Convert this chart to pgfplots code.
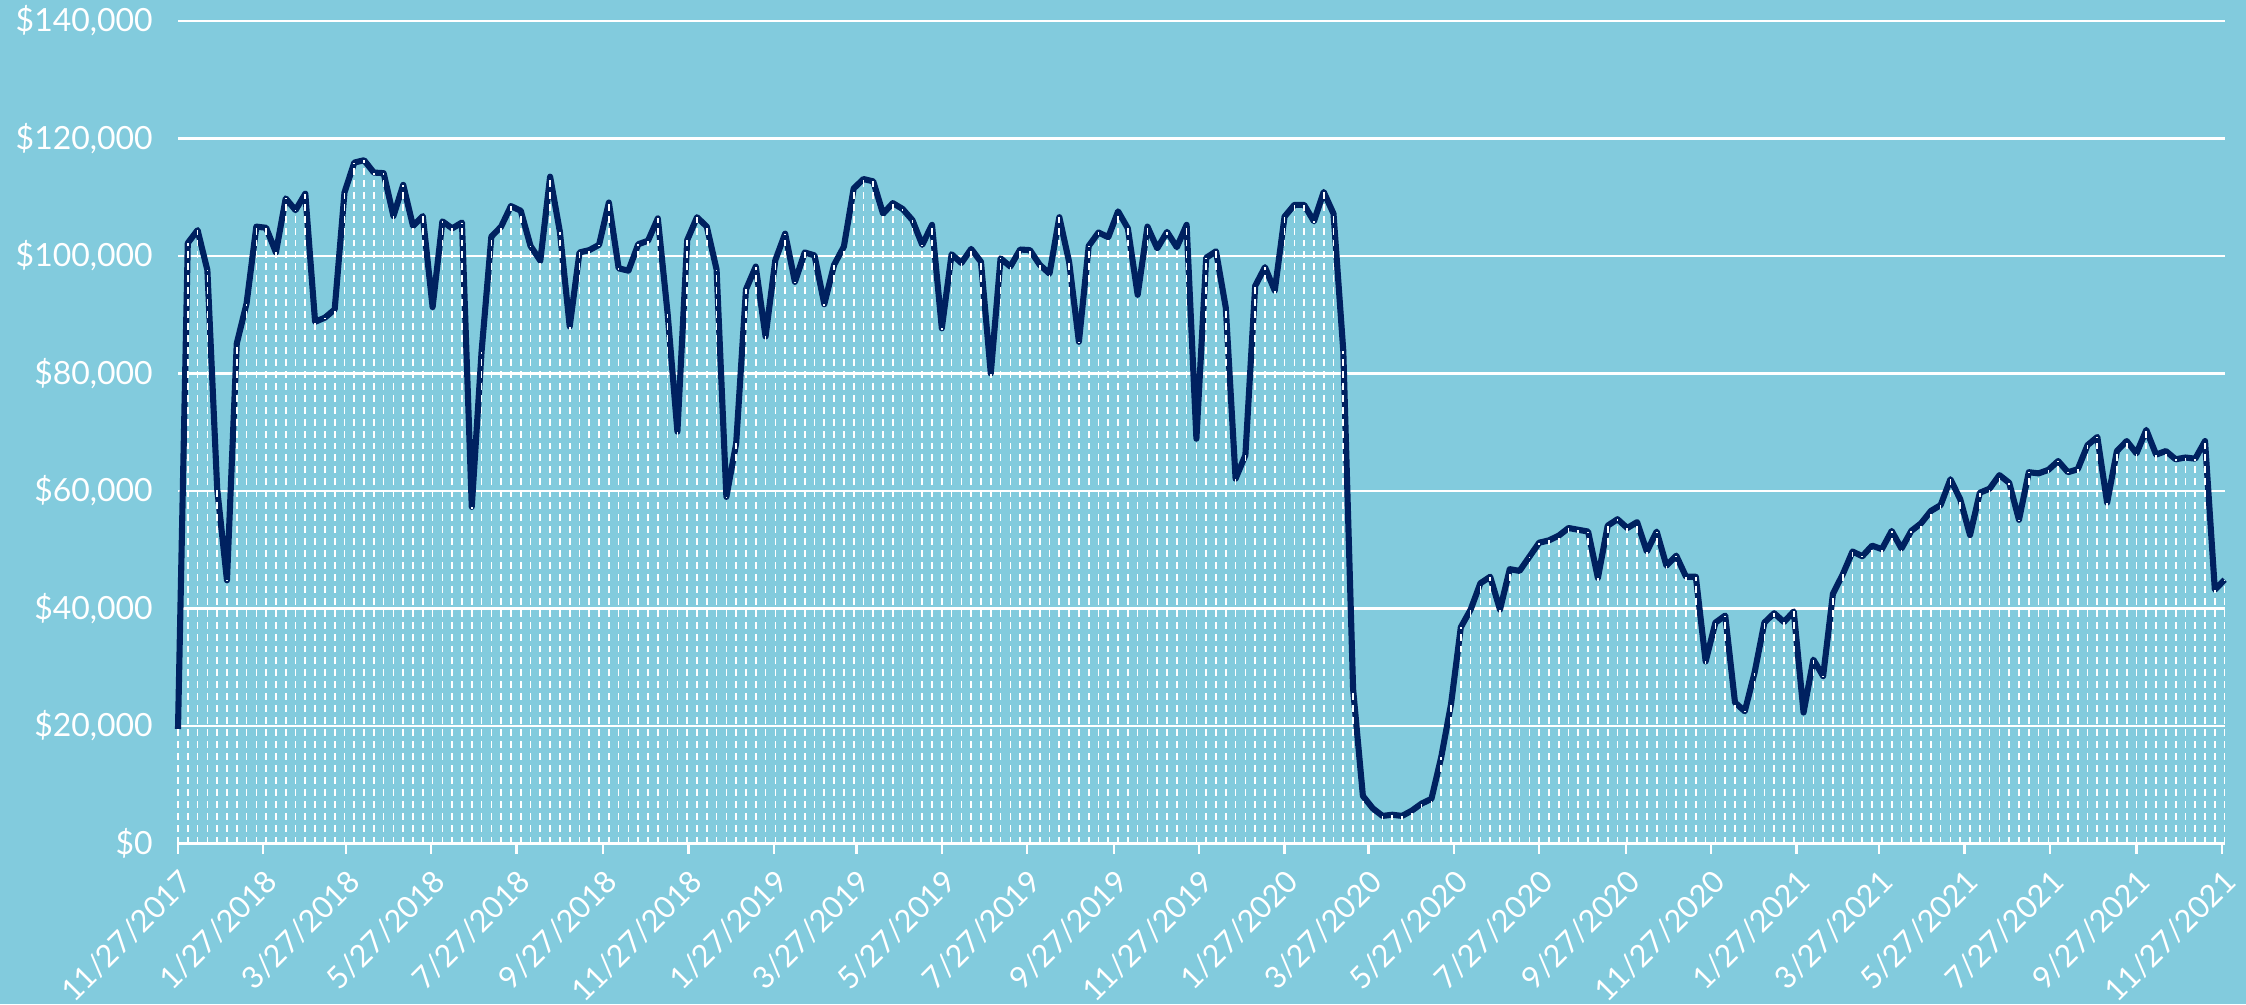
\documentclass[border=0pt]{standalone}
\usepackage{fontspec}
\setmainfont{Lato}
\usepackage{pgfplots}
\pgfplotsset{compat=1.18}
\usepackage{pgfplotstable}
\usetikzlibrary{backgrounds}
\definecolor{bg}{RGB}{130,203,221}
\definecolor{navy}{RGB}{0,33,96}

\pgfplotstableread{
w v
0 19500
1 102200
2 104400
3 97600
4 60400
5 44800
6 85100
7 91900
8 105000
9 104800
10 100600
11 109800
12 107800
13 110600
14 88800
15 89500
16 90900
17 110800
18 115900
19 116300
20 114200
21 114100
22 106800
23 112100
24 105100
25 106800
26 91300
27 105900
28 104700
29 105700
30 57300
31 83700
32 103300
33 105000
34 108500
35 107700
36 101700
37 99200
38 113500
39 104100
40 88000
41 100600
42 101000
43 101900
44 109100
45 97900
46 97500
47 102000
48 102600
49 106400
50 90200
51 70100
52 102700
53 106600
54 105000
55 97700
56 59000
57 68100
58 94300
59 98200
60 86300
61 99300
62 103800
63 95600
64 100600
65 100100
66 91800
67 98500
68 101600
69 111500
70 113100
71 112700
72 107200
73 109000
74 108000
75 106100
76 101900
77 105300
78 87700
79 100300
80 98800
81 101200
82 99000
83 80000
84 99600
85 98200
86 101100
87 101000
88 98500
89 97000
90 106600
91 99000
92 85400
93 101700
94 104000
95 103200
96 107600
97 104700
98 93400
99 105000
100 101300
101 104100
102 101500
103 105300
104 68900
105 99700
106 100800
107 91200
108 62100
109 66100
110 94900
111 98100
112 94100
113 106700
114 108700
115 108700
116 105900
117 110900
118 107200
119 83800
120 26300
121 8100
122 6000
123 4700
124 4900
125 4700
126 5600
127 6800
128 7600
129 14700
130 23700
131 36800
132 39800
133 44300
134 45400
135 39800
136 46700
137 46400
138 48800
139 51200
140 51600
141 52400
142 53700
143 53400
144 53100
145 45200
146 54100
147 55200
148 53700
149 54700
150 49700
151 53100
152 47300
153 49000
154 45400
155 45400
156 31000
157 37600
158 38800
159 24000
160 22500
161 29100
162 37600
163 39200
164 37700
165 39500
166 22300
167 31300
168 28500
169 42500
170 45800
171 49700
172 48900
173 50700
174 50100
175 53200
176 50200
177 53200
178 54500
179 56600
180 57600
181 62000
182 58600
183 52500
184 59700
185 60400
186 62700
187 61400
188 55100
189 63200
190 63000
191 63600
192 65100
193 63200
194 63700
195 67800
196 69200
197 58000
198 66800
199 68500
200 66400
201 70400
202 66200
203 66800
204 65400
205 65700
206 65500
207 68500
208 43200
209 44900
}\datatable

\begin{document}
\begin{tikzpicture}
\begin{axis}[
  scale only axis, width=737pt, height=296.2pt,
  xmin=0, xmax=1463, ymin=0, ymax=140000,
  axis x line*=bottom, axis y line*=left,
  y axis line style={draw=none},
  x axis line style={white, line width=0.8pt},
  ytick={0,20000,...,140000},
  ytick style={draw=none},
  scaled y ticks=false,
  yticklabel={\$\pgfmathprintnumber[fixed,1000 sep={,}]{\tick}},
  /pgf/number format/assume math mode=true,
  yticklabel style={white, font=\fontsize{11.5}{13}\selectfont, xshift=-2pt},
  ymajorgrids, grid style={white, line width=0.8pt},
  xtick={0,61,120,181,242,304,365,426,485,546,607,669,730,791,851,912,973,1035,1096,1157,1216,1277,1338,1400,1461},
  xticklabels={11/27/2017,1/27/2018,3/27/2018,5/27/2018,7/27/2018,9/27/2018,11/27/2018,1/27/2019,3/27/2019,5/27/2019,7/27/2019,9/27/2019,11/27/2019,1/27/2020,3/27/2020,5/27/2020,7/27/2020,9/27/2020,11/27/2020,1/27/2021,3/27/2021,5/27/2021,7/27/2021,9/27/2021,11/27/2021},
  tick align=outside, major tick length=3.6pt,
  xtick style={white, line width=0.8pt},
  xticklabel style={white, font=\fontsize{11}{13}\selectfont, anchor=north east, inner sep=0pt, xshift=0pt, yshift=-5pt, rotate=45},
  clip=false,
]
\addplot[navy, line width=2.2pt, line join=round] table[x expr=7*\thisrow{w}, y=v] {\datatable};
\addplot[ycomb, white, line width=0.6pt, dash pattern=on 2.5pt off 1.8pt] table[x expr=7*\thisrow{w}, y=v] {\datatable};
\coordinate (bl) at (rel axis cs:-0.08697,-0.19514);
\coordinate (tr) at (rel axis cs:1.01045,1.02553);
\end{axis}
\begin{pgfonlayer}{background}
\fill[bg] (bl) rectangle (tr);
\end{pgfonlayer}
\pgfresetboundingbox
\path[use as bounding box] (bl) rectangle (tr);
\end{tikzpicture}
\end{document}
